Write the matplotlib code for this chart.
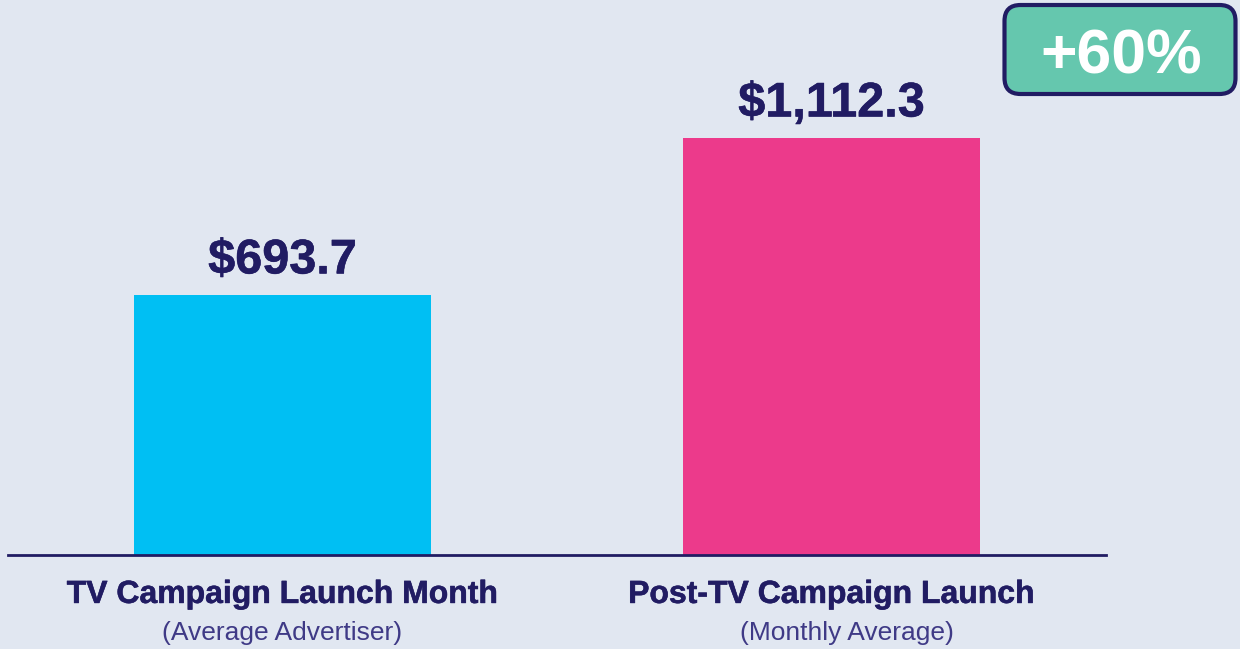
import numpy as np
import matplotlib
matplotlib.use('Agg')
import matplotlib.pyplot as plt
import matplotlib.patheffects as pe
from matplotlib.patches import FancyBboxPatch
from matplotlib.transforms import IdentityTransform

# data
categories = ['TV Campaign Launch Month', 'Post-TV Campaign Launch']
subtitles = ['(Average Advertiser)', '(Monthly Average)']
values = [693.7, 1112.3]
value_labels = ['$693.7', '$1,112.3']
badge_text = '+60%'

bg = '#E1E7F1'
navy = '#211C63'
bar_colors = ['#00BFF3', '#EC3A8B']

plt.rcParams['font.family'] = ['Liberation Sans', 'DejaVu Sans']

W, H, dpi = 1240, 649, 100
fig = plt.figure(figsize=(W / dpi, H / dpi), dpi=dpi, facecolor=bg)
ax = fig.add_axes([8 / W, (H - 555) / H, (1106 - 8) / W, 555 / H])
ax.set_facecolor(bg)

x = np.arange(len(values))
ax.bar(x, values, width=0.54, color=bar_colors, zorder=2)
ax.set_xlim(-0.5, 1.5)
ax.set_ylim(0, 555 / 0.3749)

for s in ['top', 'right', 'left']:
    ax.spines[s].set_visible(False)
ax.spines['bottom'].set_color(navy)
ax.spines['bottom'].set_linewidth(2)
ax.spines['bottom'].set_zorder(3)
ax.set_xticks([])
ax.set_yticks([])

# a touch heavier bold text, like the reference
thick = [pe.withStroke(linewidth=0.4, foreground=navy)]

# value labels
for i, v in enumerate(values):
    ax.annotate(value_labels[i], xy=(x[i], v), xytext=(0, 15.5), textcoords='offset points',
                ha='center', va='baseline', fontsize=35, fontweight='bold', color=navy,
                path_effects=thick)

# category labels
sub_shift = [0, 0.028]
for i in range(len(categories)):
    ax.annotate(categories[i], xy=(x[i], 0), xycoords=('data', 'axes fraction'),
                xytext=(0, -34.5), textcoords='offset points',
                ha='center', va='baseline', fontsize=23, fontweight='bold', color=navy,
                path_effects=thick, annotation_clip=False)
    ax.annotate(subtitles[i], xy=(x[i] + sub_shift[i], 0), xycoords=('data', 'axes fraction'),
                xytext=(0, -61), textcoords='offset points',
                ha='center', va='baseline', fontsize=19, color='#3F3A86',
                annotation_clip=False)

# badge
badge = FancyBboxPatch((1004.5, H - 94), 231, 89, boxstyle='round,pad=0,rounding_size=16',
                       facecolor='#65C7AE', edgecolor=navy, linewidth=3,
                       transform=IdentityTransform())
fig.add_artist(badge)
fig.text(1121 / W, (H - 73) / H, badge_text, ha='center', va='baseline',
         fontsize=45, fontweight='bold', color='white')

fig.savefig('out.png', dpi=dpi, facecolor=bg)
